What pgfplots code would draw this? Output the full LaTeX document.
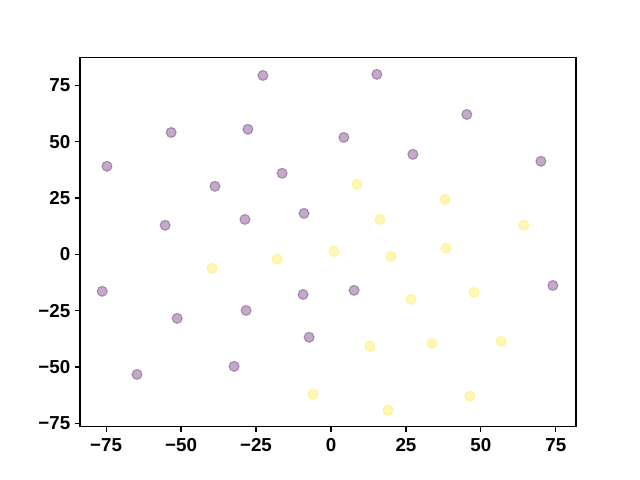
\documentclass[border=0pt]{standalone}
\usepackage{pgfplots}
\pgfplotsset{compat=1.18}
\usepackage{fontspec}
\setmainfont{Liberation Sans}
\definecolor{vpurple}{HTML}{440154}
\definecolor{vyellow}{HTML}{FDE725}
\begin{document}
\begin{tikzpicture}
\path (0,0) rectangle (460.8pt,345.6pt);
\begin{axis}[
  at={(57.6pt,38.2pt)}, anchor=south west,
  scale only axis, width=357.1pt, height=265.7pt,
  xmin=-83.7, xmax=81.7, ymin=-76.6, ymax=87.2,
  xtick={-75,-50,-25,0,25,50,75}, ytick={-75,-50,-25,0,25,50,75},
  xticklabels={−75,−50,−25,0,25,50,75},
  yticklabels={−75,−50,−25,0,25,50,75},
  tick align=outside, tick pos=left,
  major tick length=3.5pt,
  every tick/.style={black, line width=0.8pt},
  axis line style={line width=0.8pt},
  tick label style={font=\fontsize{13.5}{15}\selectfont\bfseries},
  xticklabel style={yshift=-1pt},
]
\addplot[only marks, mark=*, mark size=3.6pt,
  mark options={fill=vpurple, draw=vpurple, fill opacity=0.33, draw opacity=0.33, line width=0.8pt}]
coordinates {
(-22.7,79.4) (15.3,79.9) (45.3,62.1) (-53.3,54.1) (-27.7,55.5) (4.3,51.9)
(-74.7,39.1) (27.3,44.4) (70.0,41.3) (-38.7,30.2) (-16.3,36.0) (-55.3,12.9)
(-28.7,15.5) (-9.0,18.2) (-76.3,-16.4) (74.0,-13.8) (-51.3,-28.4) (-9.3,-17.8)
(7.7,-16.0) (-28.3,-24.9) (-7.3,-36.8) (-64.7,-53.3) (-32.3,-49.7)
};
\addplot[only marks, mark=*, mark size=3.6pt,
  mark options={fill=vyellow, draw=vyellow, fill opacity=0.33, draw opacity=0.33, line width=0.8pt}]
coordinates {
(8.7,31.1) (38.0,24.4) (16.3,15.5) (64.3,12.9) (1.0,1.3) (38.3,2.7)
(20.0,-0.9) (-39.7,-6.2) (-18.0,-2.2) (47.7,-16.9) (26.7,-20.0) (13.0,-40.8)
(33.7,-39.5) (56.7,-38.6) (-6.0,-62.1) (19.0,-69.2) (46.3,-63.0)
};
\end{axis}
\end{tikzpicture}
\end{document}
